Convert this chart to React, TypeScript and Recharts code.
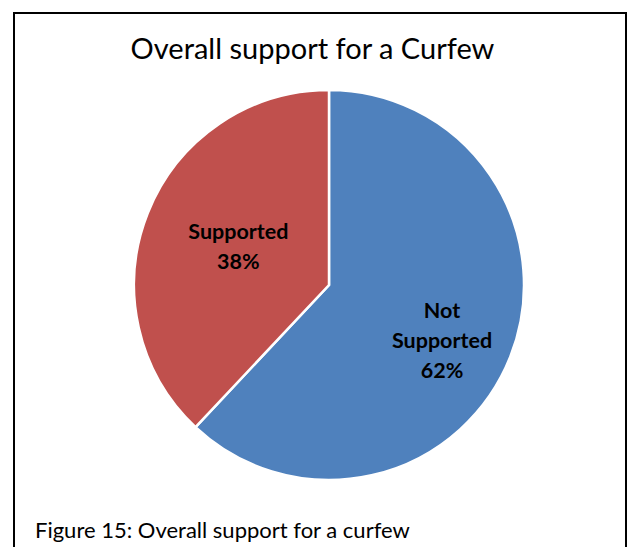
import { PieChart, Pie, Cell } from "recharts";

const categories = ["Not Supported", "Supported"];
const shares = [62, 38];
const labelLines = [["Not", "Supported", "62%"], ["Supported", "38%"]];
const colors = ["#4F81BD", "#C0504D"];

const data = categories.map((name, i) => ({ name, value: shares[i] }));

const FONT = "Lato, 'Open Sans', sans-serif";
const RAD = Math.PI / 180;
// Excel "best fit" puts the two labels at slightly different spots
const labelDist = [0.64, 0.5];
const labelNudge = [
  [-3, 9],
  [0, -3],
];

function SliceLabel(props: any) {
  const { cx, cy, midAngle, outerRadius, index } = props;
  const r = outerRadius * labelDist[index];
  const x = cx + r * Math.cos(-midAngle * RAD) + labelNudge[index][0];
  const y = cy + r * Math.sin(-midAngle * RAD) + labelNudge[index][1];
  const lines = labelLines[index];
  const lh = 30;
  const top = y - ((lines.length - 1) * lh) / 2;
  return (
    <text
      x={x}
      y={top}
      textAnchor="middle"
      dominantBaseline="central"
      fontFamily={FONT}
      fontWeight="bold"
      fontSize={21.5}
      fill="#000"
    >
      {lines.map((l, i) => (
        <tspan key={i} x={x} y={top + i * lh}>
          {l}
        </tspan>
      ))}
    </text>
  );
}

export default function App() {
  return (
    <div
      style={{
        position: "absolute",
        left: 0,
        top: 0,
        width: 633,
        height: 547,
        background: "#fff",
        overflow: "hidden",
        fontFamily: FONT,
      }}
    >
      <div
        style={{
          position: "absolute",
          left: 13,
          top: 12,
          width: 610,
          height: 560,
          borderLeft: "2px solid #000",
          borderRight: "2px solid #000",
          borderTop: "2px solid #000",
        }}
      />
      <div
        style={{
          position: "absolute",
          left: 0,
          width: 625,
          top: 30,
          textAlign: "center",
          fontSize: 29,
          color: "#000",
        }}
      >
        Overall support for a Curfew
      </div>
      <div style={{ position: "absolute", left: 0, top: 70 }}>
        <PieChart width={633} height={430}>
          <Pie
            data={data}
            dataKey="value"
            nameKey="name"
            cx={324}
            cy={210}
            outerRadius={195}
            startAngle={90}
            endAngle={-270}
            stroke="#fff"
            strokeWidth={2.5}
            labelLine={false}
            label={SliceLabel}
            isAnimationActive={false}
          >
            {data.map((d, i) => (
              <Cell key={d.name} fill={colors[i]} />
            ))}
          </Pie>
        </PieChart>
      </div>
      <div
        style={{
          position: "absolute",
          left: 35,
          top: 516,
          fontSize: 22,
          color: "#000",
        }}
      >
        Figure 15: Overall support for a curfew
      </div>
    </div>
  );
}
